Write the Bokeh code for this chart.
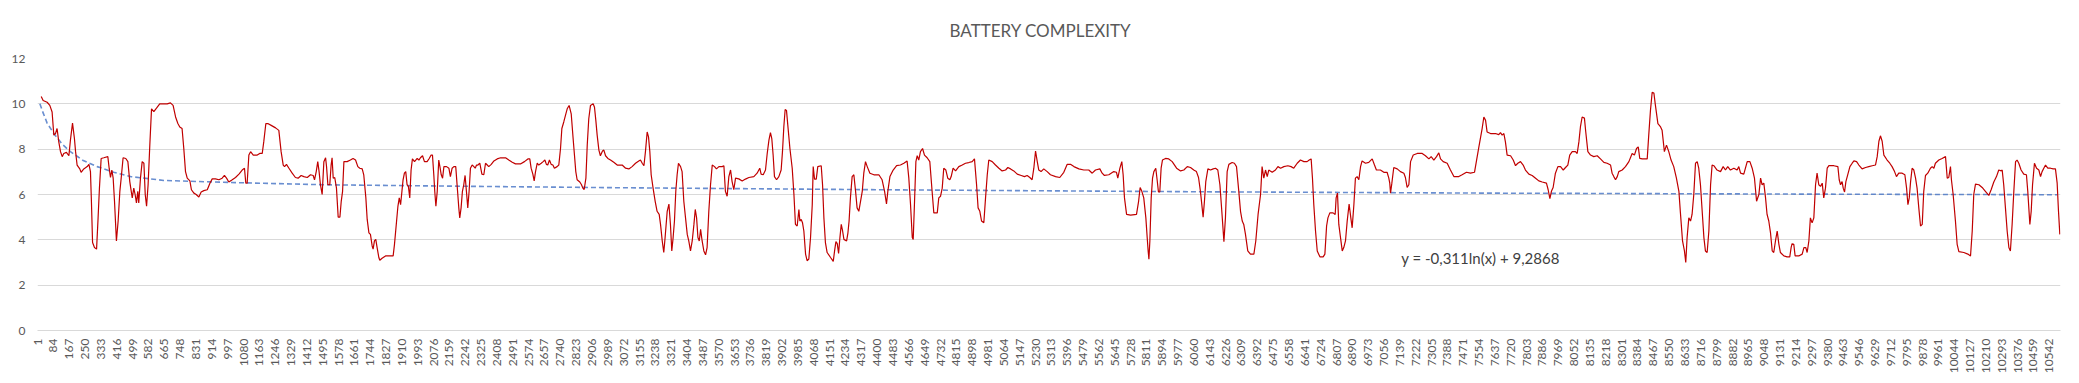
from math import pi
from bokeh.plotting import figure
from bokeh.models import Range1d, FixedTicker, Label
from bokeh.embed import file_html
from bokeh.resources import INLINE

TITLE = "BATTERY COMPLEXITY"
EQUATION = "y = -0,311ln(x) + 9,2868"

# category index (row number) and complexity value
CATEGORY_INDEX = [
    20, 30, 51, 65, 77, 86, 95, 103, 112, 121, 130, 138, 152, 165, 173, 184, 194, 200, 208, 222, 229, 243, 261, 270, 278,
    283, 289, 299, 310, 318, 325, 334, 348, 369, 376, 383, 390, 397, 404, 414, 423, 432, 439, 449, 463, 474, 484, 497, 505,
    512, 519, 526, 531, 540, 549, 558, 565, 572, 580, 589, 598, 610, 624, 641, 662, 680, 697, 711, 724, 736, 746, 758, 767,
    776, 785, 799, 807, 820, 832, 846, 858, 872, 890, 904, 916, 933, 951, 968, 980, 991, 1003, 1021, 1038, 1056, 1073, 1085,
    1092, 1099, 1108, 1117, 1131, 1152, 1165, 1178, 1186, 1197, 1207, 1225, 1248, 1265, 1277, 1288, 1295, 1305, 1318, 1335,
    1352, 1366, 1382, 1396, 1414, 1431, 1445, 1452, 1461, 1469, 1476,
    1483, 1492, 1501, 1510, 1515, 1522, 1532, 1539, 1544, 1550, 1558, 1567, 1576, 1585, 1592, 1599, 1606, 1623, 1640, 1654,
    1667, 1679, 1689, 1702, 1710, 1721, 1728, 1737, 1745, 1754, 1759, 1766, 1773, 1780, 1789, 1794, 1806, 1824, 1841, 1864,
    1871, 1882, 1889, 1896, 1903, 1910, 1916, 1923, 1930, 1937, 1944, 1951, 1958, 1965, 1976, 1990, 1999, 2007, 2018, 2028,
    2042, 2053, 2063, 2070, 2077, 2082, 2088, 2095, 2103, 2109, 2116, 2123, 2130, 2144, 2156, 2164, 2173, 2182, 2192, 2199,
    2208, 2213, 2220, 2227, 2234, 2241, 2248, 2255, 2262, 2269, 2278, 2287, 2294, 2301, 2308, 2318, 2329, 2339, 2348, 2357,
    2365, 2378, 2392, 2409, 2427, 2453, 2470, 2488, 2505, 2531, 2552, 2570, 2580, 2587, 2596, 2603, 2610, 2619, 2627, 2640,
    2650, 2659, 2667, 2674, 2683, 2692, 2701, 2709, 2723, 2732, 2741, 2748, 2758, 2769, 2776, 2786, 2797, 2807, 2814, 2821,
    2828, 2842, 2851, 2858, 2865, 2874, 2881, 2889, 2898, 2912, 2919, 2926, 2933, 2942, 2950, 2961, 2968, 2977, 2989,
    3003, 3020, 3038, 3064, 3082, 3099, 3116, 3134, 3151, 3160, 3169, 3178, 3186, 3195, 3202, 3209, 3216, 3226, 3237, 3247,
    3258, 3265, 3274, 3282, 3289, 3300, 3309, 3317, 3324, 3331, 3338, 3345, 3352, 3359, 3370, 3378, 3387, 3396, 3405, 3413,
    3422, 3431, 3440, 3447, 3454, 3461, 3468, 3475, 3483, 3492, 3501, 3509, 3518, 3527, 3536, 3548, 3558, 3571, 3588, 3597,
    3605, 3614, 3623, 3632, 3640, 3649, 3658, 3675, 3693, 3710, 3728, 3754, 3771, 3785, 3792, 3803, 3815, 3824, 3833, 3841,
    3848, 3855, 3862, 3873, 3885, 3897, 3904, 3911, 3918, 3925, 3932, 3943, 3955, 3964, 3972, 3981, 3990, 3995, 4002, 4009,
    4016, 4025, 4033, 4042, 4051, 4060, 4065, 4072, 4081, 4089, 4107, 4114, 4121, 4129, 4138, 4156, 4170, 4177, 4184, 4191,
    4198, 4205, 4212, 4219, 4226, 4240, 4247, 4253, 4260, 4269, 4278, 4287, 4295, 4304, 4313, 4322, 4330, 4339, 4348, 4362,
    4383, 4409, 4426, 4439, 4449, 4456, 4467, 4484, 4502,
    4522, 4540, 4557, 4566, 4575, 4584, 4589, 4596, 4603, 4610, 4618, 4627, 4638, 4648, 4662, 4676, 4688, 4697, 4715, 4723,
    4732, 4741, 4749, 4760, 4770, 4781, 4788, 4798, 4811, 4828, 4846, 4863, 4880, 4898, 4910, 4921, 4929, 4938, 4947, 4959,
    4968, 4977, 4985, 5003, 5020, 5038, 5055, 5073, 5085, 5099, 5116, 5134, 5155, 5172, 5186, 5200, 5212, 5221, 5230, 5239,
    5247, 5259, 5273, 5291, 5308, 5335, 5357, 5378, 5396, 5413, 5431, 5457, 5483, 5509, 5527, 5544, 5567, 5579, 5591, 5614,
    5640, 5654, 5661, 5672, 5682, 5689, 5696, 5707, 5728, 5759, 5770, 5778, 5787, 5797, 5808, 5815, 5820, 5824, 5829, 5836,
    5843, 5850, 5860, 5867, 5874, 5881, 5888, 5895, 5911, 5928, 5946, 5969, 5990, 6007, 6025,
    6042, 6059, 6073, 6084, 6094, 6103, 6108, 6115, 6122, 6133, 6147, 6161, 6173, 6185, 6196, 6206, 6217, 6225, 6234, 6243,
    6260, 6272, 6283, 6295, 6304, 6313, 6321, 6330, 6342, 6356, 6374, 6384, 6396, 6409, 6417, 6426, 6435, 6444, 6452, 6470,
    6487, 6500, 6514, 6531, 6552, 6569, 6583, 6601, 6618, 6636, 6653, 6664, 6674, 6681, 6688, 6697, 6706, 6720, 6737, 6746,
    6755, 6762, 6772, 6789, 6800, 6805, 6812, 6819, 6828, 6837, 6845, 6854, 6863, 6873, 6882, 6889, 6898, 6906, 6915, 6924,
    6933, 6941, 6959, 6976, 6994, 7006, 7016, 7037, 7055, 7072, 7081, 7086, 7090, 7097, 7107, 7125, 7142, 7160, 7168, 7177,
    7186, 7195, 7209, 7230, 7256, 7273, 7291, 7303, 7317, 7331, 7343, 7352, 7366, 7387, 7404, 7422, 7448, 7465, 7488, 7509,
    7530, 7541, 7553,
    7570, 7579, 7588, 7596, 7614, 7640, 7657, 7666, 7675, 7684, 7692, 7701, 7719, 7733, 7745, 7757, 7771, 7785, 7797, 7815,
    7832, 7850, 7867, 7885, 7907, 7916, 7925, 7933, 7942, 7954, 7967, 7981, 7995, 8007, 8019, 8029, 8042, 8059, 8068, 8077,
    8085, 8094, 8106, 8113, 8124, 8138, 8155, 8173, 8190, 8208, 8225, 8243, 8251, 8260, 8269, 8278, 8286, 8304, 8321, 8339,
    8356, 8368, 8379, 8388, 8396, 8409, 8435, 8443, 8452, 8461, 8470, 8478, 8491, 8505, 8513, 8525, 8536, 8548, 8560, 8574,
    8588, 8601, 8609, 8620, 8630, 8637, 8644, 8653, 8662, 8670, 8679, 8688, 8697, 8705, 8714, 8723, 8732, 8740, 8749, 8758,
    8767, 8775, 8784, 8801, 8819, 8833, 8845, 8857, 8871, 8889, 8906, 8915, 8924, 8941, 8959, 8973, 8985, 8997, 9008, 9020,
    9029, 9037, 9046, 9055, 9063, 9072,
    9081, 9090, 9098, 9107, 9116, 9125, 9133, 9151, 9168, 9182, 9189, 9194, 9203, 9210, 9229, 9247, 9256, 9266, 9273, 9282,
    9290, 9299, 9308, 9317, 9325, 9334, 9343, 9352, 9360, 9369, 9378, 9387, 9413, 9434, 9441, 9448, 9456, 9462, 9469, 9476,
    9483, 9497, 9509, 9518, 9532, 9544, 9561, 9579, 9596, 9614, 9631, 9640, 9649, 9657, 9666, 9675, 9692, 9706, 9718, 9731,
    9741, 9753, 9771, 9785, 9794, 9801, 9808, 9815, 9823, 9832, 9841, 9849, 9858, 9867, 9876, 9884, 9893, 9905, 9919, 9928,
    9937, 9945, 9963, 9980, 9998, 10007, 10015, 10024, 10029, 10038, 10050, 10059, 10068, 10094, 10115, 10129, 10138, 10146,
    10155, 10173, 10190, 10207, 10225, 10237, 10251, 10265, 10277, 10290, 10295, 10303, 10312, 10321, 10330, 10338, 10347,
    10356, 10365, 10373, 10382, 10394, 10408, 10422, 10429, 10440, 10447, 10454, 10464, 10475, 10487, 10496, 10504, 10513,
    10522, 10534, 10548, 10562, 10574, 10583, 10590, 10597,
]

COMPLEXITY = [
    10.32, 10.15, 10.07, 9.93, 9.64, 8.62, 8.69, 8.91, 8.32, 7.89, 7.67, 7.81, 7.86, 7.71, 8.40, 9.15, 8.47, 7.89, 7.30, 7.13,
    6.98, 7.13, 7.23, 7.33, 7.01, 5.70, 3.88, 3.66, 3.59, 4.97, 6.28, 7.59, 7.62, 7.67, 7.16, 6.75, 7.08, 6.72, 5.70, 3.95,
    4.83, 6.14, 6.72, 7.62, 7.59, 7.45, 6.57, 5.85, 6.28, 6.00, 5.63, 6.14, 5.63, 6.72, 7.45, 7.38, 6.00, 5.48, 6.43, 8.18,
    9.78, 9.66, 9.81, 10.00, 10.00, 10.00, 10.04, 9.93, 9.42, 9.13, 8.98, 8.91, 8.03, 7.01, 6.72, 6.60, 6.21, 6.06, 6.00,
    5.89, 6.11, 6.17, 6.21, 6.50, 6.69, 6.69, 6.65, 6.72, 6.84, 6.72, 6.55, 6.65, 6.75, 6.90, 7.08, 7.16, 6.50, 6.50, 7.74,
    7.89, 7.74, 7.74, 7.81, 7.81, 8.32, 9.13, 9.13, 9.05, 8.94, 8.83, 7.89, 7.30, 7.23, 7.33, 7.16, 6.94, 6.75, 6.72, 6.84,
    6.79, 6.75, 6.87, 6.84, 6.65, 7.01, 7.45, 7.01,
    6.43, 6.00, 7.45, 7.62, 7.23, 6.43, 6.43, 7.30, 7.62, 6.72, 6.75, 6.28, 5.00, 5.00, 5.70, 6.14, 7.45, 7.45, 7.52, 7.59,
    7.52, 7.23, 7.16, 7.13, 6.87, 5.85, 4.90, 4.31, 4.24, 3.73, 3.59, 3.95, 4.02, 3.66, 3.22, 3.10, 3.19, 3.29, 3.29, 3.29,
    3.80, 4.83, 5.48, 5.85, 5.55, 6.14, 6.65, 6.94, 7.01, 6.43, 6.36, 5.85, 7.08, 7.57, 7.45, 7.59, 7.52, 7.62, 7.71, 7.45,
    7.45, 7.59, 7.74, 7.74, 6.87, 6.14, 5.48, 6.14, 7.52, 7.23, 6.87, 6.72, 7.23, 7.23, 7.16, 6.79, 7.16, 7.23, 7.23, 6.43,
    5.41, 4.97, 5.41, 6.14, 6.43, 6.84, 6.14, 5.41, 6.14, 7.16, 7.30, 7.23, 7.16, 7.30, 7.30, 7.38, 6.90, 6.87, 7.38, 7.30,
    7.23, 7.33, 7.48, 7.57, 7.62, 7.62, 7.52, 7.42, 7.35, 7.35, 7.45, 7.57, 7.57, 7.16, 6.90, 6.60, 7.01, 7.38, 7.30, 7.38,
    7.45, 7.52, 7.33, 7.30, 7.52, 7.33, 7.30, 7.16, 7.23, 7.30, 8.03, 8.91, 9.20, 9.56, 9.78, 9.93, 9.56, 8.47, 7.74, 7.01,
    6.65, 6.55, 6.43, 6.28, 6.22, 6.72, 8.18, 9.34, 9.93, 10.00, 9.85, 9.27, 8.62, 7.96, 7.71, 7.92, 7.96, 7.71, 7.59,
    7.52, 7.42, 7.30, 7.30, 7.16, 7.13, 7.23, 7.38, 7.48, 7.52, 7.38, 7.27, 7.89, 8.76, 8.54, 7.89, 6.87, 6.28, 5.70, 5.26,
    5.12, 4.68, 3.95, 3.44, 4.10, 5.26, 5.58, 4.68, 3.51, 4.10, 4.83, 6.14, 6.87, 7.38, 7.23, 7.01, 5.70, 4.97, 4.24, 3.95,
    3.51, 3.95, 4.68, 5.34, 4.97, 4.10, 3.95, 4.46, 3.95, 3.51, 3.34, 3.66, 5.26, 6.43, 7.30, 7.23, 7.13, 7.23, 7.23, 7.27,
    6.14, 5.92, 6.79, 7.08, 6.57, 6.21, 6.72, 6.69, 6.60, 6.68, 6.75, 6.79, 6.94, 7.16, 6.90, 6.87, 7.08, 7.81, 8.40, 8.73,
    8.47, 7.74, 6.79, 6.65, 6.79, 7.08, 7.89, 8.98, 9.75, 9.71, 9.05, 8.03, 7.16, 6.00, 4.68, 4.61, 5.34, 4.83, 4.90, 4.75,
    4.39, 3.37, 3.08, 3.15, 4.10, 5.55, 7.23, 6.68, 6.68, 7.23, 7.27, 6.43, 4.97, 3.88, 3.44, 3.22, 3.05, 3.51, 3.92, 3.83,
    3.40, 4.10, 4.68, 4.39, 4.02, 3.95, 4.31, 4.83, 5.85, 6.79, 6.87, 6.14, 5.41, 5.26, 5.70, 6.14, 6.94, 7.45, 7.23, 6.94,
    6.87, 6.87, 6.65, 6.14, 5.58, 6.14, 6.79, 7.08, 7.27,
    7.30, 7.38, 7.48, 6.72, 5.55, 4.10, 4.02, 5.70, 7.45, 7.71, 7.52, 7.89, 8.03, 7.74, 7.62, 7.45, 6.14, 5.19, 5.19, 5.85,
    5.92, 6.28, 7.16, 7.08, 6.72, 6.65, 6.79, 7.16, 7.04, 7.23, 7.30, 7.38, 7.41, 7.45, 7.57, 6.43, 5.41, 5.26, 4.83, 4.75,
    5.85, 6.87, 7.52, 7.45, 7.30, 7.16, 7.04, 7.08, 7.19, 7.13, 7.04, 6.90, 6.84, 6.79, 6.84, 6.75, 6.65, 7.16, 7.92, 7.45,
    7.08, 7.01, 7.13, 7.01, 6.87, 6.79, 6.75, 6.98, 7.33, 7.33, 7.23, 7.13, 7.08, 7.08, 6.94, 7.08, 7.13, 6.94, 6.84, 6.87,
    7.01, 6.98, 6.72, 7.16, 7.45, 6.87, 5.85, 5.12, 5.09, 5.12, 5.70, 6.31, 6.14, 5.85, 4.97, 4.10, 3.51, 3.15, 3.95, 5.85,
    6.72, 7.01, 7.16, 6.65, 6.11, 6.11, 7.16, 7.52, 7.59, 7.57, 7.45, 7.16, 7.04, 7.08, 7.23,
    7.19, 7.08, 7.01, 6.75, 6.14, 5.41, 5.00, 5.70, 6.57, 7.13, 7.08, 7.13, 7.16, 7.08, 6.43, 5.26, 3.92, 4.97, 7.01, 7.33,
    7.41, 7.38, 7.23, 6.14, 5.26, 4.83, 4.68, 4.24, 3.51, 3.37, 3.37, 3.95, 5.12, 6.00, 7.23, 6.72, 7.08, 6.79, 7.08, 6.98,
    7.08, 7.23, 7.16, 7.23, 7.27, 7.23, 7.16, 7.38, 7.52, 7.45, 7.45, 7.52, 7.57, 6.72, 5.55, 4.39, 3.51, 3.25, 3.25, 3.37,
    4.61, 4.97, 5.19, 5.19, 5.12, 5.85, 6.06, 4.68, 4.10, 3.51, 3.66, 3.95, 4.83, 5.58, 4.97, 4.53, 5.55, 6.72, 6.79, 6.65,
    7.23, 7.48, 7.38, 7.42, 7.57, 7.30, 7.08, 7.08, 6.98, 6.98, 6.72, 6.50, 6.06, 6.50, 7.19, 7.13, 7.01, 6.94, 6.75, 6.31,
    6.43, 7.45, 7.74, 7.81, 7.81, 7.71, 7.57, 7.67, 7.52, 7.67, 7.84, 7.57, 7.45, 7.38, 7.08, 6.79, 6.79, 6.87, 6.98, 6.94,
    6.98, 7.52, 8.10,
    8.91, 9.42, 9.27, 8.76, 8.69, 8.69, 8.64, 8.73, 8.62, 8.69, 8.32, 7.74, 7.71, 7.52, 7.27, 7.38, 7.45, 7.30, 7.08, 6.90,
    6.84, 6.72, 6.60, 6.55, 6.50, 6.21, 5.82, 6.14, 6.31, 6.94, 7.23, 7.23, 7.08, 7.19, 7.30, 7.74, 7.89, 7.89, 7.81, 8.32,
    8.98, 9.42, 9.37, 8.76, 7.89, 7.74, 7.67, 7.71, 7.57, 7.42, 7.38, 7.30, 6.94, 6.79, 6.65, 6.79, 7.01, 7.08, 7.23, 7.45,
    7.81, 7.74, 8.03, 8.10, 7.59, 7.57, 7.57, 8.62, 9.71, 10.51, 10.48, 9.93, 9.13, 8.98, 8.83, 7.89, 8.18, 7.89, 7.52, 7.23,
    6.72, 6.14, 5.19, 3.95, 3.51, 3.00, 4.10, 4.97, 4.83, 5.12, 6.00, 7.38, 7.45, 7.16, 6.43, 5.26, 4.10, 3.51, 3.44, 4.39,
    6.43, 7.30, 7.27, 7.08, 7.01, 7.23, 7.08, 7.23, 7.08, 7.16, 7.08, 7.23, 6.94, 6.90, 7.45, 7.45, 7.16, 6.72, 5.70, 6.00,
    6.72, 6.43, 6.50, 5.85, 5.12, 4.83,
    4.31, 3.51, 3.44, 3.95, 4.39, 3.80, 3.44, 3.29, 3.25, 3.25, 3.66, 3.83, 3.80, 3.29, 3.29, 3.37, 3.66, 3.66, 3.44, 3.95,
    4.97, 4.75, 4.97, 6.43, 6.94, 6.43, 6.36, 6.50, 5.85, 6.28, 7.16, 7.27, 7.27, 7.23, 6.65, 6.43, 6.57, 6.28, 6.11, 6.57,
    6.79, 7.23, 7.38, 7.48, 7.45, 7.30, 7.13, 7.19, 7.23, 7.27, 7.30, 7.67, 8.35, 8.59, 8.35, 7.74, 7.52, 7.38, 7.23, 7.01,
    6.79, 6.94, 6.94, 6.87, 6.28, 5.55, 5.85, 6.57, 7.16, 7.08, 6.72, 6.28, 5.41, 4.61, 4.68, 6.14, 6.84, 6.94, 7.16, 7.23,
    7.16, 7.38, 7.52, 7.59, 7.67, 6.72, 6.75, 7.23, 6.65, 6.00, 4.83, 3.80, 3.48, 3.44, 3.37, 3.29, 4.39, 6.00,
    6.46, 6.43, 6.31, 6.14, 5.96, 6.21, 6.55, 6.79, 7.08, 7.04, 7.08, 6.43, 5.41, 4.39, 3.66, 3.51, 4.68,
    6.14, 7.45, 7.52, 7.38, 7.08, 6.90, 6.87, 6.14, 4.68, 5.26, 6.43, 7.38, 7.16, 7.08, 6.79, 7.01, 7.16,
    7.30, 7.16, 7.16, 7.13, 7.13, 6.50, 5.26, 4.24,
]

# logarithmic trendline as drawn in the picture
TREND_INDEX = [13, 30, 51, 86, 130, 173, 240, 313, 400, 488, 662, 1012, 1501, 2269, 3038, 4575, 6094, 7614, 9133, 10583]
TREND_VALUE = [10.0, 9.6, 9.15, 8.69, 8.22, 7.89, 7.5, 7.23, 6.98, 6.79, 6.62, 6.53, 6.43, 6.36, 6.30, 6.20, 6.12, 6.06, 6.02, 5.99]

X_TICKS = [1, 84, 167, 250, 333, 416, 499, 582, 665, 748, 831, 914, 997, 1080, 1163, 1246, 1329, 1412, 1495, 1578,
           1661, 1744, 1827, 1910, 1993, 2076, 2159, 2242, 2325, 2408, 2491, 2574, 2657, 2740, 2823, 2906, 2989, 3072,
           3155, 3238, 3321, 3404, 3487, 3570, 3653, 3736, 3819, 3902, 3985, 4068, 4151, 4234, 4317, 4400, 4483, 4566,
           4649, 4732, 4815, 4898, 4981, 5064, 5147, 5230, 5313, 5396, 5479, 5562, 5645, 5728, 5811, 5894, 5977, 6060,
           6143, 6226, 6309, 6392, 6475, 6558, 6641, 6724, 6807, 6890, 6973, 7056, 7139, 7222, 7305, 7388, 7471, 7554,
           7637, 7720, 7803, 7886, 7969, 8052, 8135, 8218, 8301, 8384, 8467, 8550, 8633, 8716, 8799, 8882, 8965, 9048,
           9131, 9214, 9297, 9380, 9463, 9546, 9629, 9712, 9795, 9878, 9961, 10044, 10127, 10210, 10293, 10376, 10459,
           10542]
Y_TICKS = [0, 2, 4, 6, 8, 10, 12]
N_ROWS = 10600

FONT = "Lato"
GRAY = "#595959"

p = figure(width=2079, height=383, output_backend="svg", toolbar_location=None,
           x_range=Range1d(0.5, N_ROWS + 0.5), y_range=Range1d(0, 12),
           min_border_left=37, min_border_right=19, min_border_top=56, min_border_bottom=53)
p.outline_line_color = None
p.title.text = TITLE
p.title.align = "left"
p.title.offset = 912
p.title.text_font = FONT
p.title.text_font_size = "17px"
p.title.text_font_style = "normal"
p.title.text_color = GRAY
p.title.standoff = 35

p.line(TREND_INDEX, TREND_VALUE, line_color="#4472C4", line_width=1.6, line_alpha=0.8, line_dash="5 3")
p.line(CATEGORY_INDEX, COMPLEXITY, line_color="#C00000", line_width=1.2)

p.xaxis.ticker = FixedTicker(ticks=X_TICKS)
p.xaxis.major_label_orientation = pi / 2
p.xaxis.major_label_standoff = 8
p.xaxis.major_tick_in = 0
p.xaxis.major_tick_out = 0
p.xaxis.major_tick_line_color = None
p.xaxis.minor_tick_line_color = None
p.xaxis.axis_line_color = "#D9D9D9"
p.xaxis.major_label_text_font = FONT
p.xaxis.major_label_text_font_size = "12px"
p.xaxis.major_label_text_color = GRAY

p.yaxis.ticker = FixedTicker(ticks=Y_TICKS)
p.yaxis.major_label_standoff = 12
p.yaxis.major_tick_in = 0
p.yaxis.major_tick_out = 0
p.yaxis.major_tick_line_color = None
p.yaxis.minor_tick_line_color = None
p.yaxis.axis_line_color = None
p.yaxis.major_label_text_font = FONT
p.yaxis.major_label_text_font_size = "12px"
p.yaxis.major_label_text_color = GRAY

p.xgrid.grid_line_color = None
p.ygrid.grid_line_color = "#D9D9D9"
p.ygrid.grid_line_width = 1

p.add_layout(Label(x=7146, y=3.19, text=EQUATION, text_align="left", text_baseline="alphabetic",
                   text_font=FONT, text_font_size="15px", text_color="#404040"))

open("out.html", "w").write(file_html(p, INLINE))
